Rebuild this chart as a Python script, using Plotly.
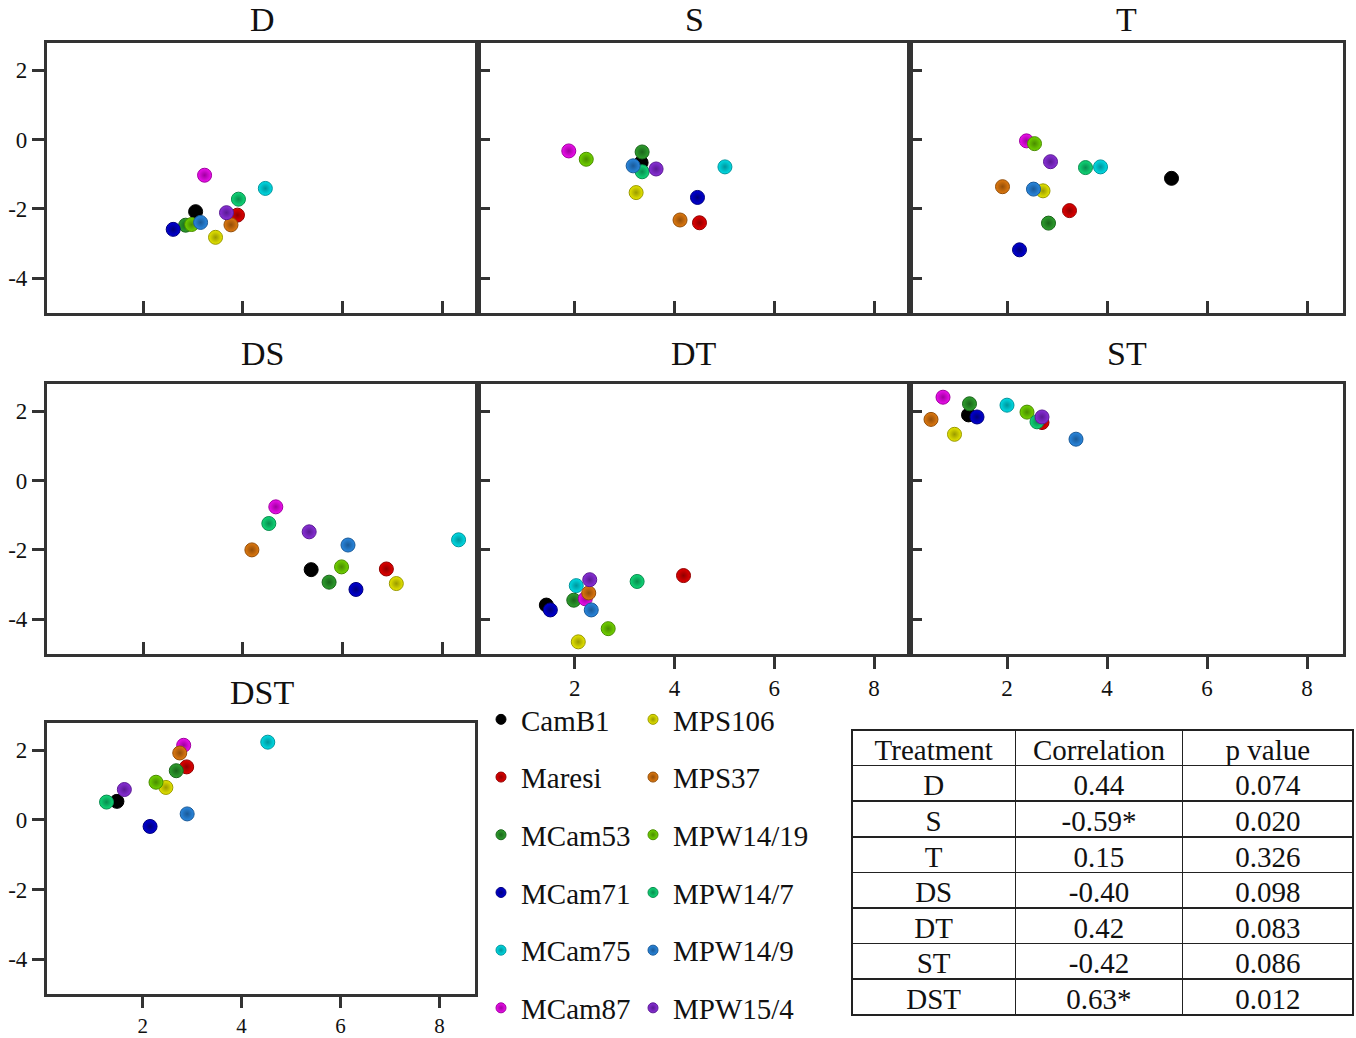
import plotly.graph_objects as go

# ---------------- data ----------------
genotypes = ["CamB1", "Maresi", "MCam53", "MCam71", "MCam75", "MCam87",
             "MPS106", "MPS37", "MPW14/19", "MPW14/7", "MPW14/9", "MPW15/4"]

colors = ["#000000", "#e30000", "#2ea02e", "#0000d8", "#00dde6", "#ee10ee",
          "#e6e600", "#e07a10", "#72d400", "#10d878", "#2a88e0", "#8a30d8"]
edge_colors = ["#000000", "#900000", "#1a641a", "#00007a", "#00959c", "#a000a0",
               "#9a9a00", "#944e08", "#4a8c00", "#088c4e", "#1a5a98", "#5a1a94"]

treatments = ["D", "S", "T", "DS", "DT", "ST", "DST"]

# x / y values per treatment, in genotype order
D_x = [3.05, 3.89, 2.85, 2.60, 4.45, 3.23, 3.45, 3.76, 2.97, 3.91, 3.15, 3.67]
D_y = [-2.08, -2.18, -2.47, -2.59, -1.41, -1.03, -2.82, -2.46, -2.45, -1.72, -2.39, -2.11]

S_x = [3.33, 4.50, 3.35, 4.46, 5.01, 1.88, 3.23, 4.11, 2.23, 3.35, 3.17, 3.63]
S_y = [-0.67, -2.40, -0.36, -1.67, -0.79, -0.33, -1.53, -2.32, -0.57, -0.93, -0.76, -0.85]

T_x = [5.29, 3.25, 2.83, 2.25, 3.87, 2.39, 2.72, 1.91, 2.55, 3.57, 2.53, 2.87]
T_y = [-1.12, -2.05, -2.41, -3.18, -0.79, -0.04, -1.48, -1.36, -0.12, -0.81, -1.43, -0.64]

DS_x = [5.37, 6.88, 5.73, 6.27, 8.33, 4.66, 7.08, 4.18, 5.98, 4.52, 6.11, 5.33]
DS_y = [-2.57, -2.55, -2.93, -3.14, -1.71, -0.76, -2.97, -2.00, -2.49, -1.24, -1.86, -1.48]

DT_x = [1.43, 4.18, 1.98, 1.51, 2.03, 2.21, 2.07, 2.28, 2.67, 3.25, 2.33, 2.30]
DT_y = [-3.59, -2.74, -3.45, -3.73, -3.03, -3.41, -4.65, -3.24, -4.27, -2.91, -3.73, -2.86]

ST_x = [1.23, 2.70, 1.25, 1.40, 2.00, 0.72, 0.95, 0.48, 2.40, 2.60, 3.38, 2.70]
ST_y = [1.89, 1.67, 2.21, 1.83, 2.17, 2.40, 1.33, 1.76, 1.97, 1.69, 1.19, 1.83]

DST_x = [1.48, 2.89, 2.68, 2.15, 4.53, 2.83, 2.47, 2.75, 2.27, 1.27, 2.90, 1.63]
DST_y = [0.53, 1.52, 1.41, -0.19, 2.23, 2.14, 0.93, 1.92, 1.08, 0.51, 0.17, 0.87]

panel_x = [D_x, S_x, T_x, DS_x, DT_x, ST_x, DST_x]
panel_y = [D_y, S_y, T_y, DS_y, DT_y, ST_y, DST_y]

x_ticks = [2, 4, 6, 8]
y_ticks = [2, 0, -2, -4]

table_treatment = ["D", "S", "T", "DS", "DT", "ST", "DST"]
table_correlation = ["0.44", "-0.59*", "0.15", "-0.40", "0.42", "-0.42", "0.63*"]
table_pvalue = ["0.074", "0.020", "0.326", "0.098", "0.083", "0.086", "0.012"]

# ---------------- layout geometry (pixels) ----------------
W, H = 1356, 1038
FONT = "Liberation Serif, Times New Roman, serif"
AXC = "#333333"

col_px = [(46.7, 478), (478, 910), (910, 1343)]
row_px = [(43, 313), (384, 654), (723, 994)]
positions = [(0, 0), (0, 1), (0, 2), (1, 0), (1, 1), (1, 2), (2, 0)]

def fx(p):
    return p / W

def fy(p):
    return 1 - p / H

fig = go.Figure()
layout_axes = {}
annotations = []

for i, (name, (r, c)) in enumerate(zip(treatments, positions)):
    k = i + 1
    xa = "x" if k == 1 else f"x{k}"
    ya = "y" if k == 1 else f"y{k}"
    x0, x1 = col_px[c]
    if (r, c) == (2, 0):
        x1 = 475
    y0, y1 = row_px[r]
    show_x_labels = name in ("DT", "ST", "DST")
    show_y_labels = c == 0
    layout_axes["xaxis" if k == 1 else f"xaxis{k}"] = dict(
        domain=[fx(x0), fx(x1)], range=[0.06, 8.72], anchor=ya,
        tickvals=x_ticks, ticktext=[str(v) for v in x_ticks],
        showticklabels=show_x_labels,
        ticks="outside" if show_x_labels else "inside",
        ticklen=11 if name == "DST" else 12, tickwidth=2.5, tickcolor=AXC,
        showline=True, linecolor=AXC, linewidth=2.5, mirror=True,
        showgrid=False, zeroline=False, automargin=False,
        tickfont=dict(family=FONT, size=21 if name == "DST" else 23, color="#111111"),
    )
    layout_axes["yaxis" if k == 1 else f"yaxis{k}"] = dict(
        domain=[fy(y1), fy(y0)], range=[-5.0, 2.78], anchor=xa,
        tickvals=y_ticks, ticktext=[str(v) for v in y_ticks],
        showticklabels=show_y_labels,
        ticks="outside" if show_y_labels else "inside",
        ticklen=12, tickwidth=2.5, tickcolor=AXC,
        showline=True, linecolor=AXC, linewidth=2.5, mirror=True,
        showgrid=False, zeroline=False, automargin=False,
        tickfont=dict(family=FONT, size=23, color="#111111"),
    )
    annotations.append(dict(
        text=name, xref="paper", yref="paper",
        x=fx((col_px[c][0] + col_px[c][1]) / 2), y=fy(y0 - (23 if r == 0 else 31)),
        xanchor="center", yanchor="middle", showarrow=False,
        font=dict(family=FONT, size=34, color="#111111"),
    ))
    for g, gname in enumerate(genotypes):
        fig.add_trace(go.Scatter(
            x=[panel_x[i][g]], y=[panel_y[i][g]], xaxis=xa, yaxis=ya,
            mode="markers", name=gname, showlegend=False,
            marker=dict(size=14, color=colors[g],
                        line=dict(width=1, color=edge_colors[g]),
                        gradient=dict(type="radial", color=edge_colors[g])),
        ))

# legend entries
for g, gname in enumerate(genotypes):
    fig.add_trace(go.Scatter(
        x=[None], y=[None], mode="markers", name=gname,
        legend="legend" if g < 6 else "legend2", legendgroup=gname,
        marker=dict(size=10, color=colors[g],
                    line=dict(width=1, color=edge_colors[g]),
                    gradient=dict(type="radial", color=edge_colors[g])),
    ))

# table
fig.add_trace(go.Table(
    domain=dict(x=[fx(852), fx(1353)], y=[fy(1019), fy(730)]),
    columnwidth=[163, 167, 170],
    header=dict(values=["Treatment", "Correlation", "p value"],
                fill_color="white", line=dict(color="#222222", width=1.5),
                align="center", height=35.6,
                font=dict(family=FONT, size=29, color="#111111")),
    cells=dict(values=[table_treatment, table_correlation, table_pvalue],
               fill_color="white", line=dict(color="#222222", width=1.5),
               align="center", height=35.6,
               font=dict(family=FONT, size=29, color="#111111")),
))

legend_common = dict(
    font=dict(family=FONT, size=29, color="#111111"),
    bgcolor="rgba(0,0,0,0)", borderwidth=0, tracegroupgap=17,
    xanchor="left", yanchor="top", itemwidth=30,
)
fig.update_layout(
    width=W, height=H,
    margin=dict(l=0, r=0, t=0, b=0, autoexpand=False),
    paper_bgcolor="white", plot_bgcolor="white",
    showlegend=True,
    legend=dict(x=fx(481), y=fy(694), **legend_common),
    legend2=dict(x=fx(633), y=fy(694), **legend_common),
    annotations=annotations,
    **layout_axes,
)

fig.write_html("out.html")
